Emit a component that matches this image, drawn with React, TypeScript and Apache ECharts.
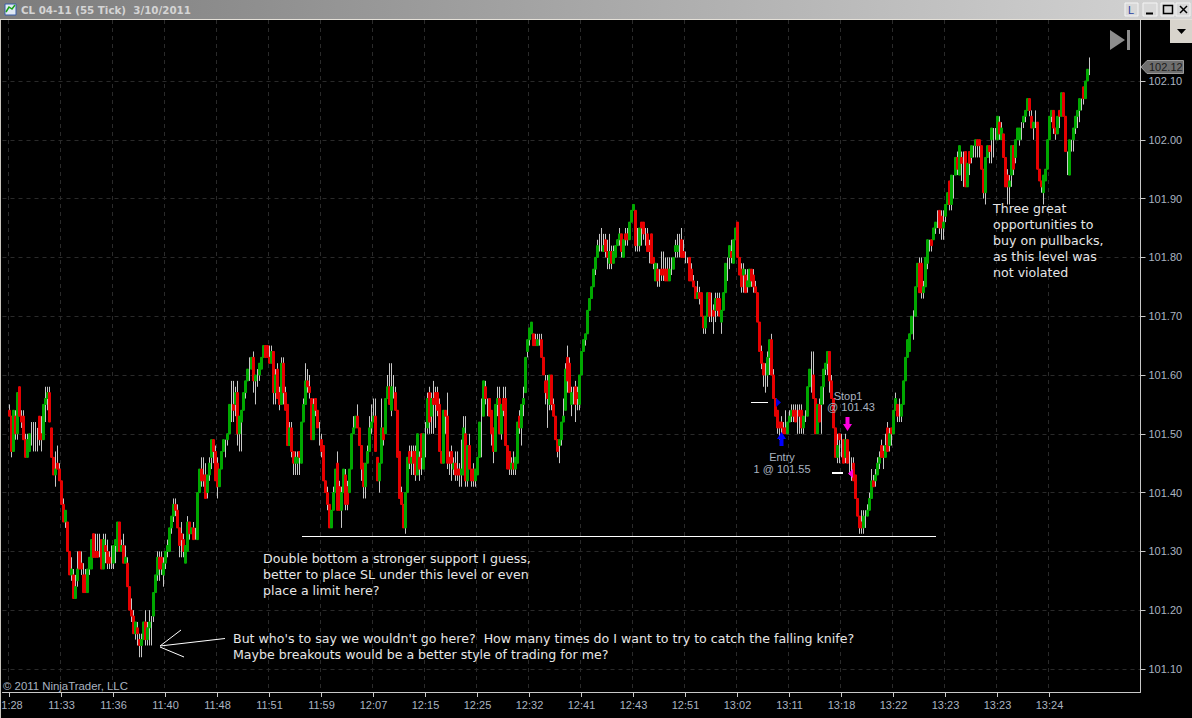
import React, { useEffect, useRef } from "react";
import * as echarts from "echarts";

// Bars as [open, close, low, high], in cents above 101.00.
const barsA: number[][] = [
[54,53,53,55],[53,47,46,53],[47,54,47,54],[53,50,49,54],[50,57,49,57],[58,53,53,58],[53,52,51,54],[53,49,49,54],[49,46,46,50],[46,49,46,50],
[47,50,47,50],[50,50,48,52],[50,50,47,52],[50,50,47,52],[50,50,47,51],[53,49,48,53],[50,49,47,53],[49,55,49,55],[55,56,52,58],[56,57,54,58],
[57,52,52,58],[51,46,46,51],[46,43,43,46],[43,44,41,47],[45,44,44,48],[44,42,42,45],[42,38,38,42],[38,35,35,39],[35,37,34,37],[35,30,30,35],
[30,26,26,30],[26,27,25,29],[26,22,22,27],[22,24,22,26],[25,27,24,30],[30,27,27,30],[28,27,26,30],[26,23,23,28],[26,23,23,27],[23,27,23,27],
[27,29,26,29],[27,32,27,32],[33,29,29,33],[30,29,29,33],[30,29,29,33],[29,29,29,33],[32,27,27,32],[27,32,27,33],[31,30,28,33],[30,28,27,32],
[29,28,27,30],[28,28,27,31],[28,31,27,31],[31,32,28,32],[30,35,30,35],[35,30,30,35],[30,31,30,32],[31,28,28,33],[28,29,28,31],[28,24,24,29],
[24,20,20,24],[20,19,18,22],[19,16,16,20],[16,18,15,18],[17,16,14,18],[15,14,12,16],[14,15,12,16],[15,18,15,18],[18,15,14,20],[15,17,14,18],
[17,18,14,20],[18,18,14,19],[19,23,18,23],[23,26,23,26],[26,29,25,30],[29,27,25,30],[29,27,26,30],[26,28,24,29],[28,30,27,30],[30,31,29,32],
[30,34,30,34],[34,36,33,36],[36,38,35,39],[38,37,36,39],[37,34,34,38],[34,31,29,34],[33,32,29,35],[32,30,29,33],[28,31,28,31],[30,35,30,36],
[35,33,32,35],[33,34,33,34],[34,32,32,35],[33,33,32,34],[32,40,32,40],[40,44,40,44],
];
const barsB: number[][] = [
[44,42,41,46],[43,42,41,46],[43,39,39,45],[40,43,39,43],[43,45,42,46],[46,49,44,49],[49,47,45,49],[47,42,42,48],[45,41,39,46],[41,44,41,44],
[44,47,44,47],[47,49,47,49],[49,49,46,49],[49,50,48,50],[50,55,50,55],[55,55,52,59],[55,54,52,59],[55,57,53,58],[57,50,48,59],[50,53,47,53],
[52,54,47,54],[54,57,54,57],[57,59,56,59],[59,61,59,61],[61,61,59,63],[61,63,61,63],[63,59,57,64],[59,60,55,60],[60,60,58,61],[60,62,59,62],
[61,63,61,63],[63,65,63,65],[65,63,63,65],[65,63,63,65],[63,62,62,65],[62,64,62,65],[64,57,55,64],[57,60,55,61],[61,56,56,62],[57,55,54,58],
[55,62,55,63],[62,57,55,63],[57,54,54,58],[55,48,48,55],[48,51,48,52],[51,47,46,52],[47,45,43,47],[45,46,43,47],[45,46,43,47],[47,46,43,47],
[45,52,45,52],[52,55,52,56],[55,59,55,62],[59,58,57,61],[58,57,56,60],[56,49,49,56],[49,55,49,56],[56,54,53,56],[54,51,51,54],[51,51,48,52],
[49,47,46,50],[48,42,42,48],[42,40,40,42],[40,38,37,41],[38,34,34,38],[34,37,34,37],[37,40,37,41],[40,44,40,44],[45,37,37,47],[41,37,37,42],
[37,40,34,41],[40,44,40,44],[43,38,37,44],[41,38,37,42],[40,44,40,44],[44,50,44,50],[50,51,50,53],[51,53,51,53],[53,51,51,55],[51,48,48,51],
[48,44,42,48],[45,41,39,45],[41,45,39,45],[45,47,45,48],[47,51,47,53],[51,52,50,55],[52,53,52,56],[53,47,47,56],[46,42,42,46],[42,45,40,45],
[45,51,45,56],[51,49,48,51],[50,56,50,56],[56,58,56,60],[58,55,55,62],[54,58,53,62],[58,58,56,60],[57,54,54,58],[54,46,46,54],[47,39,39,47],
[40,38,38,41],[38,34,34,38],[34,40,33,40],[40,46,40,46],[47,45,44,48],[45,46,43,48],[47,45,43,48],[47,43,42,48],[43,50,43,50],[46,44,42,47],
];
const barsC: number[][] = [
[50,46,43,50],[44,50,44,50],[50,50,46,52],[51,56,50,57],[57,52,50,58],[53,56,50,57],[56,55,50,59],[57,55,51,58],[57,54,53,58],[55,47,47,56],
[47,45,45,47],[45,54,45,54],[54,53,50,54],[53,45,44,57],[46,45,43,47],[47,45,42,48],[44,45,43,46],[45,43,42,47],[44,43,42,47],[44,43,41,45],
[43,44,41,49],[43,51,43,53],[50,42,41,53],[42,48,41,48],[48,44,44,50],[44,42,41,44],[44,42,41,45],[42,44,41,44],[43,46,43,46],[46,52,46,52],
[53,53,46,56],[53,59,53,59],[58,56,55,59],[56,56,53,56],[56,53,53,56],[54,50,48,54],[51,47,45,51],[47,55,47,55],[55,56,53,58],[56,50,50,58],
[50,55,49,55],[56,54,53,58],[56,48,48,58],[48,44,44,48],[47,44,43,47],[44,45,43,46],[45,44,43,47],[44,46,43,46],[45,52,45,52],[53,51,50,54],
[51,55,48,55],[55,56,53,58],[57,63,57,63],[64,66,63,66],[66,68,65,68],[67,69,67,69],[67,65,65,67],[66,65,65,67],[65,66,65,67],[66,66,65,67],
[66,63,63,67],[63,60,60,63],[59,57,55,60],[59,56,51,60],[55,60,54,60],[60,55,54,60],[55,53,53,56],[53,49,49,53],[49,47,46,49],[48,49,45,49],
[49,52,48,52],[52,53,52,56],[54,61,54,62],[63,59,57,65],[62,57,57,63],[55,57,53,58],[57,57,55,58],[58,55,52,59],[57,56,54,58],[55,60,54,60],
[60,64,60,64],[64,66,64,66],[66,67,65,67],[67,71,67,71],[71,73,71,73],[73,75,73,75],[75,78,75,78],[78,80,77,80],[80,82,80,83],[82,82,81,84],
[82,82,81,85],[81,82,81,84],[83,81,80,84],[81,80,78,83],[79,81,78,84],[81,79,78,82],[79,81,79,82],[80,82,80,82],[82,83,82,83],[83,84,82,85],
[84,81,80,84],[80,83,80,83],[84,83,82,85],[84,83,82,85],[83,86,83,86],[86,88,86,88],[88,89,88,89],[88,82,81,88],[82,82,81,85],[82,85,81,85],
];
const barsD: number[][] = [
[86,85,82,86],[86,84,83,86],[84,84,82,85],[84,81,81,85],[82,81,79,83],[84,79,79,84],[80,79,78,80],[76,79,76,79],[78,76,75,79],[77,77,75,78],
[78,77,76,81],[78,77,76,81],[78,76,76,80],[78,76,76,80],[76,78,76,80],[78,78,77,80],[78,80,78,80],[81,82,80,83],[81,82,80,84],[82,82,80,84],
[83,80,80,85],[81,80,80,83],[80,80,79,81],[80,80,79,80],[80,76,76,80],[78,76,76,79],[76,75,75,77],[75,73,73,75],[73,74,73,76],[74,73,72,75],
[74,70,70,74],[70,68,67,70],[68,70,67,70],[70,74,70,74],[74,70,69,74],[70,70,69,74],[71,70,67,72],[71,73,69,74],[73,71,70,74],[73,70,70,74],
[69,71,67,71],[71,74,71,74],[74,79,74,79],[79,79,76,80],[80,82,78,82],[81,80,79,83],[79,83,79,83],[83,85,83,85],[86,80,80,86],[80,77,77,80],
[78,75,74,79],[77,78,74,79],[77,74,74,78],[75,76,74,78],[75,78,75,78],[78,76,75,78],[77,75,74,78],[75,74,74,76],[74,69,69,74],[69,64,64,69],
[64,62,61,65],[62,60,58,62],[60,60,57,62],[60,63,58,64],[63,66,60,66],[66,60,60,67],[60,56,56,61],[56,53,53,56],[54,51,50,54],[52,51,49,52],
[52,51,50,53],[51,50,50,52],[51,50,50,54],[50,52,50,52],[52,53,52,54],[53,54,52,55],[54,53,52,55],[54,52,52,55],[53,53,50,55],[54,53,50,55],
[54,51,50,55],[51,53,50,53],[53,53,52,54],[53,58,53,58],[58,61,58,61],[61,61,57,64],[60,56,56,64],[56,50,50,56],[50,55,50,55],[55,52,52,56],
[55,58,50,58],[58,61,55,61],[61,62,60,62],[62,64,60,64],[64,59,57,64],[59,56,56,60],[56,51,51,56],[51,46,46,51],[46,48,45,50],[50,49,45,50],
[49,49,46,50],[49,45,45,49],[46,49,45,50],[49,45,45,49],[45,45,43,47],[45,45,42,46],[45,42,42,46],[43,39,39,43],[39,36,36,39],[36,34,33,36],
];
const barsE: number[][] = [
[35,34,33,37],[34,36,33,37],[36,36,34,37],[36,37,36,38],[37,39,37,40],[39,42,39,44],[42,41,41,43],[42,43,41,44],[43,45,43,46],[45,46,44,47],
[48,46,46,49],[47,46,44,48],[46,48,46,50],[51,47,47,52],[48,50,47,51],[51,50,48,51],[50,54,50,54],[54,56,54,57],[55,53,52,55],[53,53,52,56],
[53,55,52,55],[55,59,55,59],[59,63,59,63],[63,66,63,66],[64,67,64,67],[67,70,67,70],[70,70,66,71],[70,75,70,75],[75,79,75,79],[79,74,74,80],
[79,74,73,80],[74,75,73,76],[75,80,75,80],[79,83,78,83],[83,83,81,83],[83,82,81,83],[83,85,83,85],[85,86,84,86],[86,86,85,88],[88,85,84,88],
[87,85,83,88],[85,86,83,88],[87,89,86,89],[89,91,89,91],[93,89,88,93],[89,94,88,94],[94,94,90,94],[94,97,94,97],[97,95,94,98],[94,99,94,99],
[97,96,93,98],[97,97,92,98],[98,92,92,98],[92,96,92,96],[98,96,94,98],[97,99,96,99],[99,99,97,99],[99,100,97,100],[100,99,97,100],[100,99,97,100],
[99,95,95,99],[95,91,90,95],[91,97,89,97],[97,99,97,99],[99,98,96,99],[100,102,96,102],[100,100,97,102],[100,100,100,102],[100,104,100,104],[103,101,100,104],
[100,102,100,103],[101,97,97,101],[97,92,92,97],[94,92,89,95],[92,93,89,94],[94,99,92,99],[99,95,94,99],[97,100,96,100],[100,102,100,102],[100,102,99,102],
[102,102,100,103],[103,104,102,104],[104,105,103,105],[105,107,105,107],[107,105,104,107],[104,102,102,105],[102,103,100,103],[103,103,102,105],[103,95,95,103],[95,93,93,95],
[93,92,91,93],[91,94,89,94],[93,95,93,95],[95,100,95,100],[100,104,100,104],[104,105,103,105],[105,102,101,105],[102,101,100,102],[101,104,101,104],[105,104,102,105],
[104,108,104,108],[108,104,104,108],[104,98,98,104],[97,97,94,98],[94,100,94,100],[100,100,98,100],[100,102,98,102],[102,104,101,104],[104,105,102,105],[105,107,103,107],
[107,107,105,107],[109,107,106,109],[107,110,107,110],[110,112,110,112],[112,112,111,114],
];

const xTickLabels = ["1:28","11:33","11:36","11:40","11:48","11:51","11:59","12:07","12:15","12:25","12:32","12:41","12:43","12:51","13:02","13:11","13:18","13:22","13:23","13:23","13:24"];
const yTicks = [101.1,101.2,101.3,101.4,101.5,101.6,101.7,101.8,101.9,102.0,102.1];
const lastPrice = "102.12";
const doubleBottomNote = "Double bottom a stronger support I guess,\nbetter to place SL under this level or even\nplace a limit here?";
const knifeNote = "But who's to say we wouldn't go here?  How many times do I want to try to catch the falling knife?\nMaybe breakouts would be a better style of trading for me?";
const pullbackNote = "Three great\nopportunities to\nbuy on pullbacks,\nas this level was\nnot violated";

const GREEN = "#00a800";
const RED = "#e60000";
const WICK = "#c8c8c8";
const SOFT = "#aab4c0";
const UI = "Liberation Sans";
const NOTE = "DejaVu Sans";

export default function App() {
  const ref = useRef<HTMLDivElement>(null);
  useEffect(() => {
    document.body.style.margin = "0";
    document.body.style.background = "#000";
    const chart = echarts.init(ref.current!, null, { renderer: "svg" });
    const bars = [...barsA, ...barsB, ...barsC, ...barsD, ...barsE];
    const price = (c: number) => (10100 + c) / 100;
    const lead = 3, bands = 569, every = 26;
    const cats = Array.from({ length: bands }, (_, k) => {
      const i = k - lead;
      return i >= 0 && i % every === 0 && xTickLabels[i / every] ? xTickLabels[i / every] : "";
    });
    const onTick = (k: number) => k >= lead && (k - lead) % every === 0 && k - lead <= every * 20;
    const wickData = bars.map((b, i) => [i + lead, price(b[0]), price(b[1]), price(b[2]), price(b[3])]);
    const bodyData = bars
      .map((b, i) => [i + lead, price(b[0]), price(b[1]), price(Math.min(b[0], b[1])), price(Math.max(b[0], b[1]))])
      .filter((d) => d[1] !== d[2]);
    const Z = 20;
    const note = (x: number, y: number, text: string) => ({
      type: "text", x, y, z: Z, silent: true,
      style: { text, fill: "#e6e6e6", font: `12.6px "${NOTE}"`, lineHeight: 16, textVerticalAlign: "top" },
    });
    const soft = (x: number, y: number, text: string, align = "left", size = 11) => ({
      type: "text", x, y, z: Z, silent: true,
      style: { text, fill: SOFT, font: `${size}px "${UI}"`, textAlign: align, textVerticalAlign: "middle" },
    });
    const line = (x1: number, y1: number, x2: number, y2: number, stroke = "#ffffff", lineWidth = 1) => ({
      type: "line", z: Z, silent: true, shape: { x1, y1, x2, y2 }, style: { stroke, lineWidth },
    });
    const poly = (points: number[][], fill: string, stroke?: string) => ({
      type: "polygon", z: Z, silent: true, shape: { points }, style: { fill, stroke: stroke || undefined },
    });
    const box = (x: number, y: number, width: number, height: number, fill: any, stroke?: string) => ({
      type: "rect", z: Z - 1, silent: true, shape: { x, y, width, height }, style: { fill, stroke: stroke || undefined },
    });
    const option = {
      animation: false,
      backgroundColor: "#000000",
      grid: { left: 2.5, top: 20, width: 1138, height: 672, containLabel: false, outerBoundsMode: "none" },
      xAxis: {
        type: "category", data: cats, boundaryGap: true,
        axisLine: { show: true, lineStyle: { color: WICK, width: 1 } },
        axisTick: { show: true, alignWithLabel: true, interval: onTick, length: 5, lineStyle: { color: WICK } },
        axisLabel: {
          show: true, interval: onTick, color: SOFT, fontFamily: UI, fontSize: 11, margin: 7, hideOverlap: false, showMinLabel: true, showMaxLabel: true,
          formatter: (v: string) => (v === xTickLabels[0] ? `{first|${v}}` : v),
          rich: { first: { color: SOFT, fontFamily: UI, fontSize: 11, padding: [0, 0, 0, 5] } },
        },
        splitLine: { show: true, interval: onTick, lineStyle: { color: "#2a2a2a", type: [4, 4], width: 1 } },
      },
      yAxis: {
        type: "value", position: "right", min: 101.06088, max: 102.20374, scale: true,
        axisLine: { show: true, onZero: false, lineStyle: { color: WICK, width: 1 } },
        axisTick: { show: true, customValues: yTicks, length: 5, lineStyle: { color: WICK } },
        axisLabel: { show: true, customValues: yTicks, color: SOFT, fontFamily: UI, fontSize: 11, margin: 8, formatter: (v: number) => v.toFixed(2) },
        splitLine: { show: true, lineStyle: { color: "#2a2a2a", type: [4, 4], width: 1 } },
      },
      series: [
        {
          type: "candlestick", name: "wicks", data: wickData, encode: { x: 0, y: [1, 2, 3, 4] },
          barWidth: 1, silent: true, z: 2, clip: true,
          itemStyle: { color: WICK, color0: WICK, borderColor: WICK, borderColor0: WICK, borderWidth: 1 },
        },
        {
          type: "candlestick", name: "bodies", data: bodyData, encode: { x: 0, y: [1, 2, 3, 4] },
          barWidth: 3, silent: true, z: 3, clip: true,
          itemStyle: { color: GREEN, color0: RED, borderColor: GREEN, borderColor0: RED, borderWidth: 1 },
        },
      ],
      graphic: [
        // window frame
        box(0, 0, 1192, 19, new echarts.graphic.LinearGradient(0, 0, 1, 0, [{ offset: 0, color: "#7c7c7c" }, { offset: 1, color: "#d4d4d4" }])),
        box(0, 19, 1192, 1, "#e4e0d8"),
        box(0, 20, 1, 698, "#c8c4bc"),
        box(5, 4, 11, 11, "#dfe8f4", "#3a5ea8"),
        { type: "polyline", z: Z, silent: true, shape: { points: [[6, 12], [9, 7], [12, 9], [15, 5]] }, style: { stroke: "#18a018", fill: "none", lineWidth: 1.5 } },
        { type: "text", x: 21, y: 10, z: Z, silent: true, style: { text: "CL 04-11 (55 Tick)  3/10/2011", fill: "#d4d4d4", font: `bold 10.3px "${NOTE}"`, textVerticalAlign: "middle" } },
        box(1125, 3, 13, 13, "#d8d8d8", "#f4f4f4"), box(1143, 3, 14, 13, "#d8d8d8", "#f4f4f4"), box(1161, 3, 13, 13, "#d8d8d8", "#f4f4f4"), box(1176, 3, 14, 13, "#d8d8d8", "#f4f4f4"),
        { type: "text", x: 1131, y: 10, z: Z, silent: true, style: { text: "L", fill: "#2840a0", font: `11px "${UI}"`, textAlign: "center", textVerticalAlign: "middle" } },
        line(1146, 13.5, 1153, 13.5, "#000", 2),
        { type: "rect", z: Z, silent: true, shape: { x: 1163.5, y: 5.5, width: 9, height: 8 }, style: { fill: "none", stroke: "#000", lineWidth: 1.5 } },
        line(1180, 6, 1187, 13, "#000", 1.5), line(1187, 6, 1180, 13, "#000", 1.5),
        box(1170, 20, 22, 23, "#d8d4cc"),
        poly([[1177, 29], [1186, 29], [1181.5, 34]], "#000"),
        poly([[1110, 30], [1110, 50], [1125, 40]], "#8c8c8c"),
        box(1127, 30, 3, 20, "#8c8c8c"),
        // last price flag
        poly([[1141, 67], [1147, 60.5], [1183.5, 60.5], [1183.5, 73.5], [1147, 73.5]], "#6e6e6e", "#9a9a9a"),
        { type: "text", x: 1149, y: 67, z: Z, silent: true, style: { text: lastPrice, fill: "#1c1c1c", font: `11px "${UI}"`, textVerticalAlign: "middle" } },
        soft(3, 686, "© 2011 NinjaTrader, LLC", "left", 11.4),
        // hand drawn marks
        line(302, 536.5, 936, 536.5, "#ffffff", 1),
        line(160, 646, 181, 630), line(160, 646, 225, 638.5), line(160, 647, 184, 657),
        note(263, 550, doubleBottomNote),
        note(233, 630, knifeNote),
        note(993, 200, pullbackNote),
        // trade markers
        soft(782, 457, "Entry", "center"), soft(782, 469, "1 @ 101.55", "center"),
        soft(848, 396, "Stop1", "center"), soft(851, 407, "@ 101.43", "center"),
        poly([[781.5, 432], [786, 439], [783.5, 439], [783.5, 446], [779.5, 446], [779.5, 439], [777, 439]], "#0000ff"),
        poly([[847.5, 431], [852, 424], [849.5, 424], [849.5, 417], [845.5, 417], [845.5, 424], [843, 424]], "#ff00e0"),
        poly([[776, 398], [781, 402.5], [776, 407]], "#0000e0"),
        poly([[853, 469], [848, 473.5], [853, 478]], "#ff00e0"),
        line(751, 402.5, 768, 402.5, "#ffffff", 1),
        line(832, 473, 843, 473, "#ffffff", 2),
      ],
    };
    chart.setOption(option as any);
    return () => chart.dispose();
  }, []);
  return <div ref={ref} style={{ width: 1192, height: 718 }} />;
}
